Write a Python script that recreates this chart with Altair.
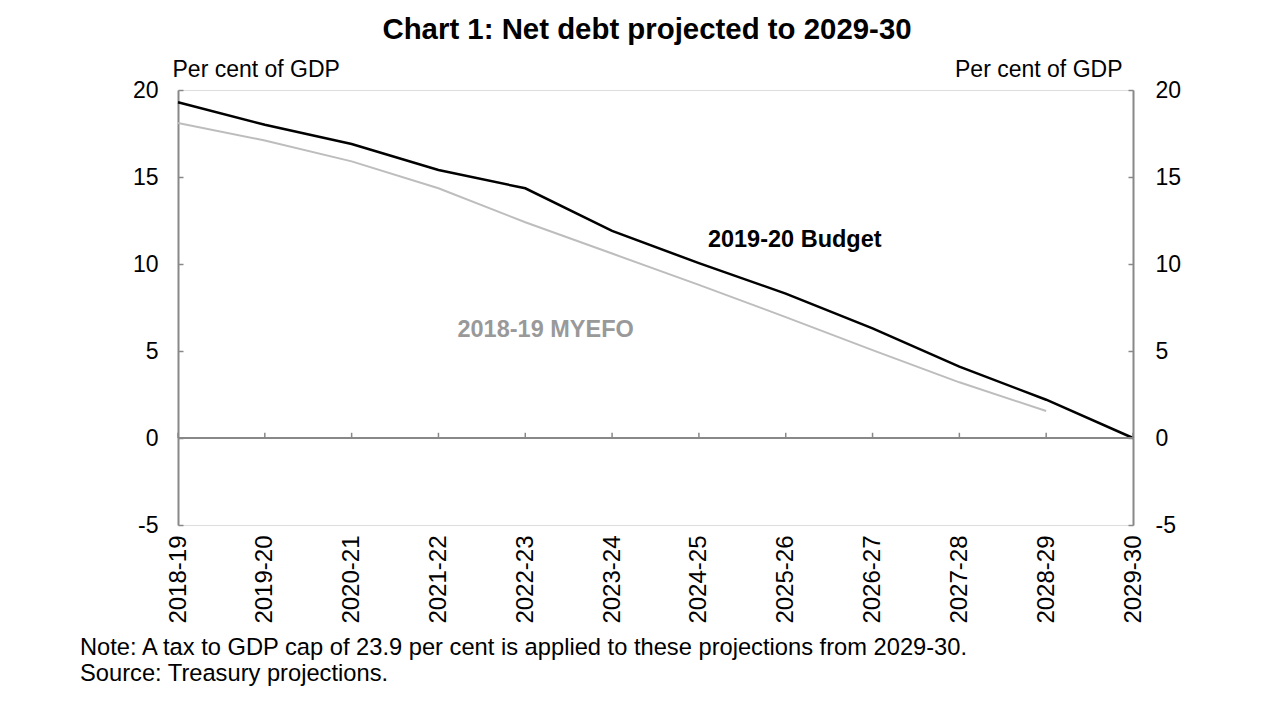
import altair as alt
import pandas as pd

years = ["2018-19", "2019-20", "2020-21", "2021-22", "2022-23", "2023-24",
         "2024-25", "2025-26", "2026-27", "2027-28", "2028-29", "2029-30"]
budget = [19.3, 18.0, 16.9, 15.4, 14.35, 11.9, 10.05, 8.3, 6.3, 4.1, 2.2, 0.0]
myefo = [18.1, 17.1, 15.9, 14.35, 12.4, 10.6, 8.8, 6.95, 5.05, 3.2, 1.55, None]
y_ticks = [-5, 0, 5, 10, 15, 20]

FONT = "Liberation Sans"
W, H = 955, 435

df = pd.DataFrame({"year": years, "budget": budget, "myefo": myefo})
zero_df = pd.DataFrame({"v": [0]})
tick_df = pd.DataFrame({"year": years, "lo": [0] * len(years), "hi": [0.3] * len(years)})

yscale = alt.Scale(domain=[-5, 20], nice=False, zero=False)
xscale = alt.Scale(type="point", padding=0)

x_axis = alt.Axis(labelAngle=-90, labelPadding=10, domain=False, ticks=False,
                  labelFontSize=24, labelFont=FONT, labelColor="black", title=None,
                  grid=False)

left_axis = alt.Axis(orient="right", offset=-W, values=y_ticks, tickSize=5,
                     tickColor="#888", tickWidth=1.5, domainColor="#888", domainWidth=2,
                     labelAlign="right", labelPadding=-25, labelFontSize=23,
                     labelFont=FONT, labelColor="black", grid=False,
                     labelExpr="'' + datum.value",
                     title="Per cent of GDP", titleAngle=0, titleX=-6, titleY=-14,
                     titleAlign="left", titleBaseline="alphabetic", titleFont=FONT,
                     titleFontSize=23, titleFontWeight="normal", titleColor="black")

right_axis = alt.Axis(orient="left", offset=-W, values=y_ticks, tickSize=5,
                      tickColor="#888", tickWidth=1.5, domainColor="#888", domainWidth=2,
                      labelAlign="left", labelPadding=-27, labelFontSize=23,
                      labelFont=FONT, labelColor="black", grid=False,
                      labelExpr="'' + datum.value",
                      title="Per cent of GDP", titleAngle=0, titleX=-11, titleY=-14,
                      titleAlign="right", titleBaseline="alphabetic", titleFont=FONT,
                      titleFontSize=23, titleFontWeight="normal", titleColor="black")

X = alt.X("year:N", sort=years, scale=xscale, axis=x_axis)

budget_line = alt.Chart(df).mark_line(color="black", strokeWidth=2.5).encode(
    x=X, y=alt.Y("budget:Q", scale=yscale, axis=left_axis))

myefo_line = alt.Chart(df).mark_line(color="#bdbdbd", strokeWidth=2).encode(
    x=X, y=alt.Y("myefo:Q", scale=yscale, axis=right_axis))

zero_rule = alt.Chart(zero_df).mark_rule(color="#888", strokeWidth=2).encode(
    y=alt.Y("v:Q", scale=yscale, axis=None))

x_ticks = alt.Chart(tick_df).mark_rule(color="#888", strokeWidth=1.5).encode(
    x=X, y=alt.Y("lo:Q", scale=yscale, axis=None), y2="hi:Q")

lab_df = pd.DataFrame({"year": ["2024-25"], "v": [11.4], "t": ["2019-20 Budget"]})
lab2_df = pd.DataFrame({"year": ["2021-22"], "v": [6.2], "t": ["2018-19 MYEFO"]})

lab1 = alt.Chart(lab_df).mark_text(align="left", baseline="middle", dx=9, font=FONT,
                                   fontSize=23.5, fontWeight="bold", color="black").encode(
    x=X, y=alt.Y("v:Q", scale=yscale, axis=None), text="t:N")
lab2 = alt.Chart(lab2_df).mark_text(align="left", baseline="middle", dx=19, font=FONT,
                                    fontSize=23.5, fontWeight="bold", color="#999999").encode(
    x=X, y=alt.Y("v:Q", scale=yscale, axis=None), text="t:N")

notes_df = pd.DataFrame({
    "t": ["Note: A tax to GDP cap of 23.9 per cent is applied to these projections from 2029-30.",
          "Source: Treasury projections."],
    "yy": [565, 591]})
notes = alt.Chart(notes_df).mark_text(align="left", baseline="alphabetic", font=FONT,
                                      fontSize=23.7, color="black").encode(
    x=alt.value(-98), y=alt.Y("yy:Q", scale=None, axis=None), text="t:N")

title_df = pd.DataFrame({"t": ["Chart 1: Net debt projected to 2029-30"]})
title = alt.Chart(title_df).mark_text(align="center", baseline="alphabetic", font=FONT,
                                      fontSize=29.4, fontWeight="bold", color="black").encode(
    x=alt.value(469), y=alt.value(-51), text="t:N")

chart = alt.layer(budget_line, myefo_line, zero_rule, x_ticks, lab1, lab2, notes, title).resolve_axis(
    y="independent").properties(
    width=W, height=H,
    autosize=alt.AutoSizeParams(type="none"),
    padding={"left": 170, "top": 82, "right": 139, "bottom": 180},
).configure_view(strokeWidth=0).configure(background="white")

chart.save("out.html", embed_options={"renderer": "svg", "actions": False})
